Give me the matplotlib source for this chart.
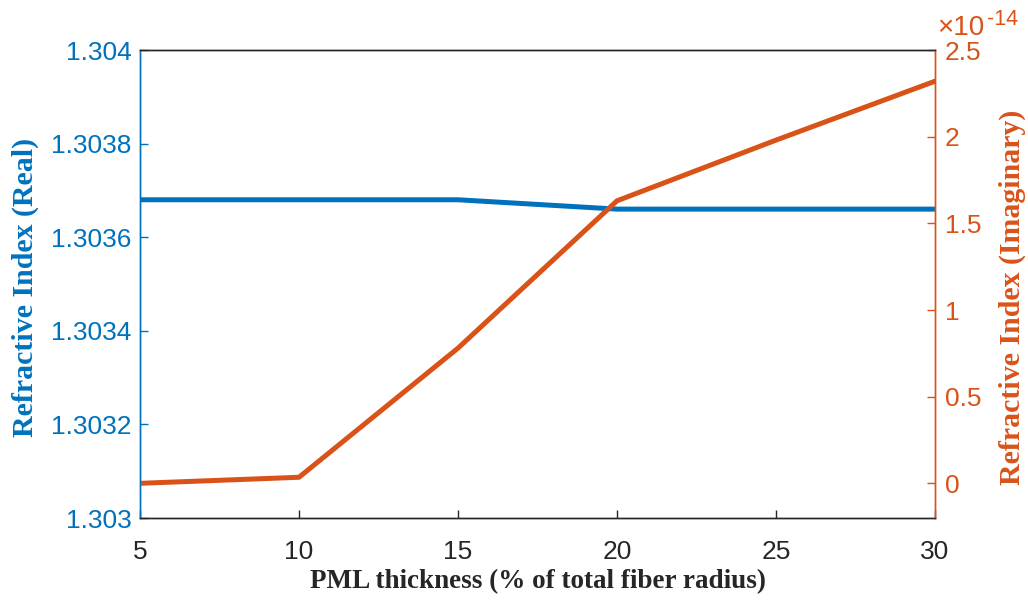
import matplotlib
matplotlib.use("Agg")
import matplotlib.pyplot as plt

# Data
pml_thickness = [5, 10, 15, 20, 25, 30]
n_real = [1.30368, 1.30368, 1.30368, 1.30366, 1.30366, 1.30366]
n_imag_e14 = [0.0, 0.035, 0.78, 1.63, 1.98, 2.32]   # in units of 1e-14

x_ticks = [5, 10, 15, 20, 25, 30]
left_ticks = [1.303, 1.3032, 1.3034, 1.3036, 1.3038, 1.304]
left_labels = ["1.303", "1.3032", "1.3034", "1.3036", "1.3038", "1.304"]
right_ticks = [0, 0.5, 1, 1.5, 2, 2.5]
right_labels = ["0", "0.5", "1", "1.5", "2", "2.5"]

BLUE = "#0072BD"
ORANGE = "#D95319"
DARK = "#262626"
tick_font = ["Liberation Sans", "DejaVu Sans"]
label_font = ["Liberation Serif", "DejaVu Serif"]

fig = plt.figure(figsize=(10.28, 6.0), dpi=100)
ax = fig.add_axes([140/1028, 1-518/600, (935-140)/1028, (518-50)/600])
ax2 = ax.twinx()

ax.plot(pml_thickness, n_real, color=BLUE, lw=3.6, solid_joinstyle="miter")
ax2.plot(pml_thickness, n_imag_e14, color=ORANGE, lw=3.6, solid_joinstyle="miter")

ax.set_xlim(5, 30)
ax.set_ylim(1.303, 1.304)
ax2.set_ylim(-0.2, 2.5)

ax.set_xticks(x_ticks)
ax.set_xticklabels([str(v) for v in x_ticks], family=tick_font, fontsize=19, color=DARK)
ax.set_yticks(left_ticks)
ax.set_yticklabels(left_labels, family=tick_font, fontsize=19, color=BLUE)
ax2.set_yticks(right_ticks)
ax2.set_yticklabels(right_labels, family=tick_font, fontsize=19, color=ORANGE)

ax.tick_params(axis="x", direction="in", length=6, width=1, color=DARK, pad=16)
ax.tick_params(axis="x", top=False)
ax.tick_params(axis="y", direction="in", length=6, width=1, color=BLUE, pad=6)
ax2.tick_params(axis="y", direction="in", length=6, width=1, color=ORANGE, pad=7)

for a in (ax, ax2):
    a.spines["top"].set_color(DARK)
    a.spines["bottom"].set_color(DARK)
    a.spines["left"].set_color(BLUE)
    a.spines["right"].set_color(ORANGE)
    for s in a.spines.values():
        s.set_linewidth(1.0)

ax.set_xlabel("PML thickness (% of total fiber radius)", family=label_font,
              fontweight="bold", fontsize=19.5, color=DARK)
ax.xaxis.set_label_coords(0.5, -0.11)
ax.set_ylabel("Refractive Index (Real)", family=label_font, fontweight="bold",
              fontsize=21.5, color=BLUE)
ax.yaxis.set_label_coords(-0.127, 0.493)
ax2.set_ylabel("Refractive Index (Imaginary)", family=label_font, fontweight="bold",
               fontsize=21.5, color=ORANGE)
ax2.yaxis.set_label_coords(1.08, 0.472)

# exponent label "×10^-14"
ax2.text(1.003, 1.032, "\u00d710", transform=ax2.transAxes, family=tick_font,
         ha="left", va="baseline", fontsize=20, color=ORANGE)
ax2.text(1.0654, 1.0534, "-14", transform=ax2.transAxes, family=tick_font,
         ha="left", va="baseline", fontsize=15.5, color=ORANGE)

fig.savefig("out.png", dpi=100)
